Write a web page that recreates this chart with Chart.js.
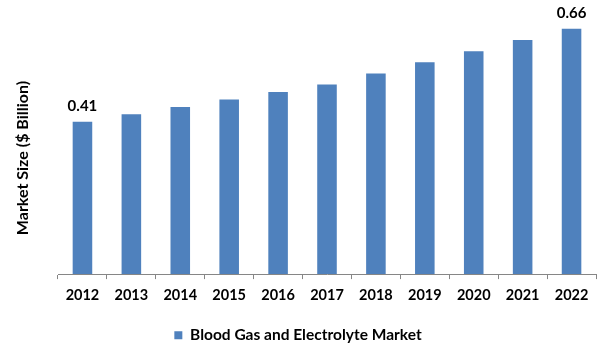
<!DOCTYPE html>
<html>
<head>
<meta charset="utf-8">
<script src="https://cdn.jsdelivr.net/npm/chart.js@4/dist/chart.umd.min.js"></script>
<style>
html,body{margin:0;padding:0;background:#fff;}
#wrap{width:601px;height:361px;position:relative;}
</style>
</head>
<body>
<div id="wrap"><canvas id="c" width="601" height="361"></canvas></div>
<script>
const categories = ["2012","2013","2014","2015","2016","2017","2018","2019","2020","2021","2022"];
const marketValues = [0.41, 0.43, 0.45, 0.47, 0.49, 0.51, 0.54, 0.57, 0.60, 0.63, 0.66];
const seriesName = "Blood Gas and Electrolyte Market";
const yTitle = "Market Size ($ Billion)";
const labelledIndexes = [0, 10];

const FONT = "Lato, 'Open Sans', sans-serif";

const extras = {
  id: 'extras',
  afterDatasetsDraw(chart) {
    const ctx = chart.ctx;
    const meta = chart.getDatasetMeta(0);
    ctx.save();
    ctx.font = "bold 15px " + FONT;
    ctx.fillStyle = "#000";
    ctx.textAlign = "center";
    ctx.textBaseline = "bottom";
    labelledIndexes.forEach(i => {
      const el = meta.data[i];
      ctx.fillText(marketValues[i].toFixed(2), el.x, el.y - 8);
    });
    ctx.restore();
    ctx.save();
    ctx.font = "bold 16px " + FONT;
    ctx.fillStyle = "#000";
    ctx.textAlign = "center";
    ctx.textBaseline = "middle";
    ctx.translate(23, 158);
    ctx.rotate(-Math.PI / 2);
    ctx.fillText(yTitle, 0, 0);
    ctx.restore();
  }
};

new Chart(document.getElementById('c'), {
  type: 'bar',
  data: {
    labels: categories,
    datasets: [{
      label: seriesName,
      data: marketValues,
      backgroundColor: '#4f81bd',
      borderWidth: 0,
      barPercentage: 0.8,
      categoryPercentage: 0.5
    }]
  },
  options: {
    responsive: false,
    animation: false,
    devicePixelRatio: 1,
    layout: { padding: { left: 0, right: 5, top: 14, bottom: 8 } },
    plugins: {
      legend: {
        position: 'bottom',
        labels: {
          boxWidth: 8, boxHeight: 8,
          color: '#000',
          font: { family: FONT, size: 15.5, weight: 'bold' },
          padding: 15
        }
      },
      tooltip: { enabled: false }
    },
    scales: {
      y: {
        display: true, min: 0, max: 0.7,
        grid: { display: false },
        border: { display: false },
        ticks: { display: false },
        afterFit(scale) { scale.width = 58; }
      },
      x: {
        grid: { offset: true, drawOnChartArea: false, drawTicks: true, tickLength: 5, color: '#868686' },
        border: { display: true, color: '#868686' },
        ticks: { color: '#000', padding: 8, font: { family: FONT, size: 14.5, weight: 'bold' } }
      }
    }
  },
  plugins: [extras]
});
</script>
</body>
</html>
